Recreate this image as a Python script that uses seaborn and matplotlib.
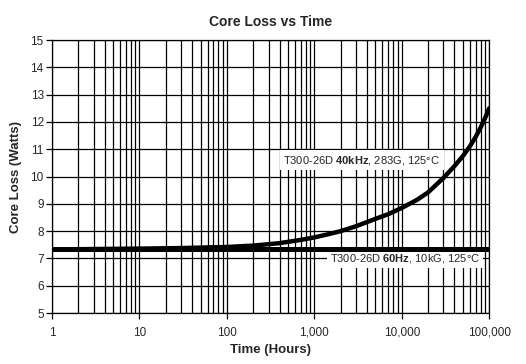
import numpy as np
import pandas as pd
import seaborn as sns
import matplotlib
matplotlib.use("Agg")
import matplotlib.pyplot as plt
from matplotlib.ticker import FixedLocator, FuncFormatter, LogLocator, NullFormatter

sns.set_style("white")
plt.rcParams["font.family"] = ["Liberation Sans", "DejaVu Sans"]
plt.rcParams["mathtext.fontset"] = "custom"
plt.rcParams["mathtext.rm"] = "Liberation Sans"
plt.rcParams["mathtext.bf"] = "Liberation Sans:bold"

# data
hours_40k = [1, 10, 30, 100, 200, 400, 700, 1000, 1500, 2000, 3000, 5000, 7000,
             10000, 15000, 20000, 30000, 40000, 50000, 60000, 70000, 80000, 90000, 100000]
loss_40k = [7.33, 7.36, 7.38, 7.42, 7.47, 7.56, 7.68, 7.77, 7.9, 8.0, 8.18, 8.45, 8.62,
            8.85, 9.15, 9.42, 9.95, 10.38, 10.75, 11.1, 11.45, 11.8, 12.15, 12.5]
hours_60 = [1, 100000]
loss_60 = [7.33, 7.33]

label_40k = "T300-26D $\\bf{40kHz}$, 283G, 125°C"
label_60 = "T300-26D $\\bf{60Hz}$, 10kG, 125°C"

df40 = pd.DataFrame({"Hours": hours_40k, "Loss": loss_40k})
df60 = pd.DataFrame({"Hours": hours_60, "Loss": loss_60})

fig = plt.figure(figsize=(5.26, 3.64), dpi=100)
ax = fig.add_axes([0.099, 0.14, 0.831, 0.75])

sns.lineplot(data=df60, x="Hours", y="Loss", color="black", lw=3.6, ax=ax, zorder=4)
sns.lineplot(data=df40, x="Hours", y="Loss", color="black", lw=3.2, ax=ax, zorder=4,
             solid_joinstyle="round", solid_capstyle="round")

ax.set_xscale("log")
ax.set_xlim(1, 100000)
ax.set_ylim(5, 15)
ax.set_yticks(range(5, 16))

ax.xaxis.set_major_locator(FixedLocator([1, 10, 100, 1000, 10000, 100000]))
ax.xaxis.set_major_formatter(FuncFormatter(lambda v, p: f"{int(v):,}"))
ax.xaxis.set_minor_locator(LogLocator(base=10, subs=np.arange(2, 10), numticks=20))
ax.xaxis.set_minor_formatter(NullFormatter())

ax.grid(True, which="major", axis="both", color="black", lw=0.9)
ax.grid(True, which="minor", axis="x", color="black", lw=0.9)
ax.set_axisbelow(True)

ax.tick_params(axis="both", which="major", direction="out", length=4, width=0.9,
               labelsize=8.5, color="black", pad=6, bottom=True, left=True)
ax.tick_params(axis="x", which="minor", length=0)
ax.tick_params(axis="y", pad=2)
for s in ax.spines.values():
    s.set_color("black")
    s.set_linewidth(0.9)

ax.set_title("Core Loss vs Time", fontsize=10, fontweight="bold", pad=10)
ax.set_xlabel("Time (Hours)", fontsize=9.5, fontweight="bold", labelpad=4)
ax.set_ylabel("Core Loss (Watts)", fontsize=9.5, fontweight="bold", labelpad=6)

ax.text(440, 10.6, label_40k, fontsize=8, va="center", ha="left", zorder=3,
        bbox=dict(facecolor="white", edgecolor="none", pad=2.5))
ax.text(1520, 6.98, label_60, fontsize=8, va="center", ha="left", zorder=3,
        bbox=dict(facecolor="white", edgecolor="none", pad=2))

fig.savefig("out.png", dpi=100)
